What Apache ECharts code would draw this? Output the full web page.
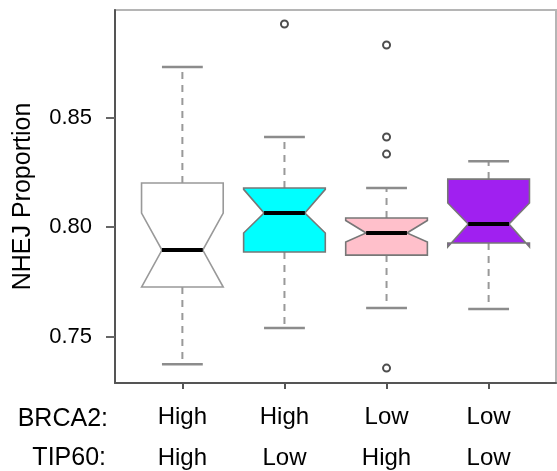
<!DOCTYPE html>
<html>
<head>
<meta charset="utf-8">
<script src="https://cdn.jsdelivr.net/npm/echarts@6/dist/echarts.min.js"></script>
<style>
  html, body { margin: 0; padding: 0; background: #fff; }
  #chart { width: 557px; height: 471px; }
</style>
</head>
<body>
<div id="chart"></div>
<script>
// groups
const brca2 = ['High', 'High', 'Low', 'Low']
const tip60 = ['High', 'Low', 'High', 'Low']

// box stats
const whiskerLow = [0.7374, 0.7539, 0.7630, 0.7626]
const q1 = [0.7726, 0.7886, 0.7872, 0.7927]
const notchLow = [0.7726, 0.7973, 0.7932, 0.7909]
const median = [0.7895, 0.8064, 0.7973, 0.8014]
const notchHigh = [0.8064, 0.8172, 0.8030, 0.8110]
const q3 = [0.8201, 0.8178, 0.8041, 0.8219]
const whiskerHigh = [0.8731, 0.8411, 0.8178, 0.8301]

// outliers: [group, value]
const outliers = [
  [2, 0.8927],
  [3, 0.8831],
  [3, 0.8411],
  [3, 0.8333],
  [3, 0.7356]
]

const yTicks = [0.75, 0.80, 0.85]

const fills = ['#ffffff', '#00ffff', '#ffc0cb', '#a020f0']
const font = 'Liberation Sans, Arial, sans-serif'

const boxData = brca2.map((_, i) => [
  i + 1, whiskerLow[i], q1[i], notchLow[i], median[i], notchHigh[i], q3[i], whiskerHigh[i]
])

const halfW = 0.4

function renderBox(params, api) {
  const x = api.value(0)
  const idx = params.dataIndex
  const p = (dx, v) => api.coord([x + dx, v])
  const wl = api.value(1), b1 = api.value(2), nl = api.value(3)
  const md = api.value(4), nh = api.value(5), b3 = api.value(6), wh = api.value(7)
  const w = halfW, nw = halfW / 2, cw = halfW / 2
  const grey = '#8c8c8c'
  const poly = [
    p(-w, b1), p(-w, nl), p(-nw, md), p(-w, nh), p(-w, b3),
    p(w, b3), p(w, nh), p(nw, md), p(w, nl), p(w, b1)
  ]
  const seg = (a, b, style) => ({
    type: 'line',
    shape: { x1: a[0], y1: a[1], x2: b[0], y2: b[1] },
    style: style
  })
  const dash = { stroke: '#999', lineWidth: 2, lineDash: [7, 6] }
  const cap = { stroke: grey, lineWidth: 2.5 }
  return {
    type: 'group',
    children: [
      seg(p(0, b3), p(0, wh), dash),
      seg(p(0, b1), p(0, wl), dash),
      seg(p(-cw, wh), p(cw, wh), cap),
      seg(p(-cw, wl), p(cw, wl), cap),
      {
        type: 'polygon',
        shape: { points: poly },
        style: { fill: fills[idx], stroke: idx === 0 ? '#999' : '#777', lineWidth: 1.6 }
      },
      seg(p(-nw, md), p(nw, md), { stroke: '#000', lineWidth: 4 })
    ]
  }
}

const chart = echarts.init(document.getElementById('chart'))

chart.setOption({
  animation: false,
  grid: {
    left: 115, top: 10, right: 1, bottom: 88,
    outerBoundsMode: 'none',
    containLabel: false,
    show: true, borderColor: '#b5b5b5', borderWidth: 2
  },
  xAxis: {
    type: 'value',
    min: 0.34,
    max: 4.66,
    splitLine: { show: false },
    axisLine: { show: true, onZero: false, lineStyle: { color: '#555', width: 2 } },
    axisTick: {
      show: true, length: 6, customValues: [1, 2, 3, 4],
      lineStyle: { color: '#555', width: 2 }
    },
    axisLabel: {
      customValues: [1, 2, 3, 4],
      margin: 14,
      fontSize: 24,
      fontFamily: font,
      color: '#000',
      lineHeight: 41,
      formatter: v => brca2[v - 1] + '\n' + tip60[v - 1]
    }
  },
  yAxis: {
    type: 'value',
    min: 0.7288,
    max: 0.8991,
    splitLine: { show: false },
    name: 'NHEJ Proportion',
    nameLocation: 'middle',
    nameGap: 79,
    nameTextStyle: { fontSize: 25, fontFamily: font, color: '#000' },
    axisLine: { show: true, onZero: false, lineStyle: { color: '#555', width: 2 } },
    axisTick: {
      show: true, length: 9, customValues: yTicks,
      lineStyle: { color: '#666', width: 2 }
    },
    axisLabel: {
      customValues: yTicks,
      margin: 23,
      fontSize: 22,
      fontFamily: font,
      color: '#000',
      formatter: v => v.toFixed(2)
    }
  },
  graphic: [
    {
      type: 'text', right: 449, top: 407,
      style: { text: 'BRCA2:', fontSize: 25, fontFamily: font, fill: '#000' }
    },
    {
      type: 'text', right: 451, top: 446,
      style: { text: 'TIP60:', fontSize: 25, fontFamily: font, fill: '#000' }
    }
  ],
  series: [
    {
      type: 'custom',
      renderItem: renderBox,
      encode: { x: 0, y: [1, 2, 3, 4, 5, 6, 7] },
      data: boxData,
      z: 2
    },
    {
      type: 'scatter',
      symbol: 'emptyCircle',
      symbolSize: 7,
      itemStyle: { color: '#222', borderColor: '#222', borderWidth: 1.6 },
      data: outliers,
      z: 3
    }
  ]
})
</script>
</body>
</html>
